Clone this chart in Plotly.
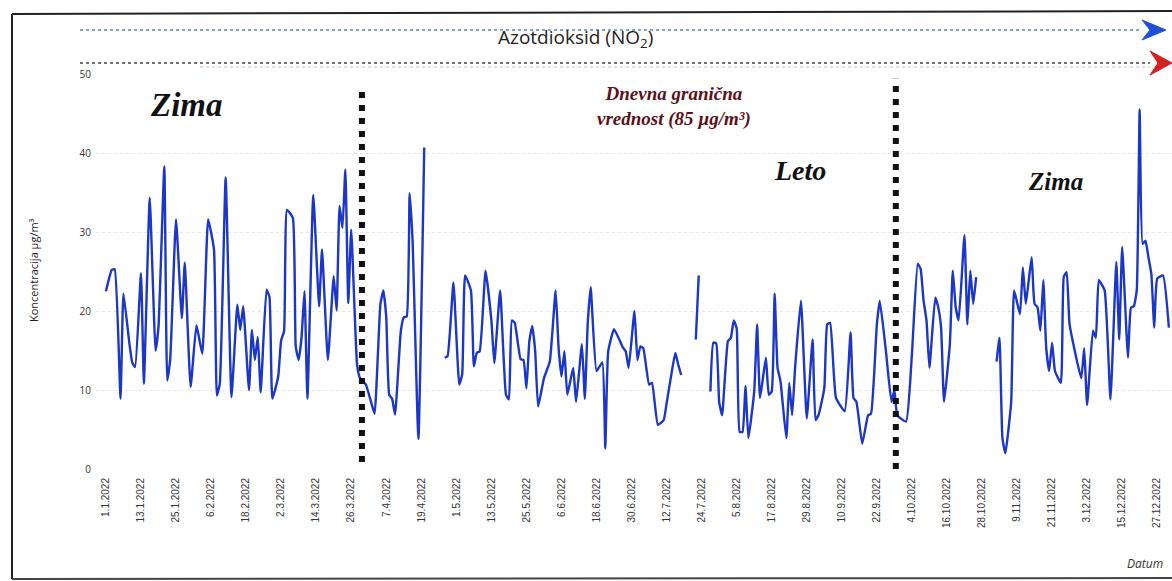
import plotly.graph_objects as go
import pandas as pd

# ---------------- data ----------------
day_of_year = [
    0, 2, 3, 5, 6, 8, 9, 10, 12, 13, 15, 17, 18, 20, 21, 22, 24, 26, 27, 29,
    31, 33, 35, 37, 38, 39, 41, 43, 45, 46, 47, 49, 50, 51, 52, 53, 55, 56, 57, 59,
    60, 61, 62, 64, 65, 66, 67, 68, 69, 71, 73, 74, 76, 78, 79, 80, 81, 82, 83, 84,
    86, 87, 89, 91, 92, 94, 95, 96, 97, 98, 99, 101, 102, 103, 104, 105, 107, 109,
    112,
    116, 117, 119, 121, 122, 123, 125, 126, 127, 128, 130, 132, 133, 135, 137, 138, 139, 140,
    142, 143, 144, 145, 146, 147, 148, 150, 152, 154, 155, 156, 157, 158, 160, 161, 163, 164,
    165, 166, 168, 170, 171, 172, 174, 177, 178, 179, 181, 182, 183, 184, 186, 187, 189, 191,
    192, 194, 195, 196, 197,
    199,
    202, 203,
    205,
    207, 208, 209, 210, 211, 213, 214, 215, 216, 217, 218, 219, 220, 222, 223, 224, 226, 227,
    228, 229, 230, 231, 233, 234, 235, 236, 238, 240, 242, 243, 244, 246, 247, 248, 250, 253,
    255, 256, 257, 259, 261, 262, 264, 265, 267, 269, 270, 271, 274, 276, 278, 279, 280, 281,
    282, 284, 285, 286, 287, 289, 290, 291, 292, 294, 295, 296, 297, 298,
    301,
    305, 306, 307, 308, 310, 311, 313, 314, 315, 317, 318, 319, 320, 321, 322, 323, 324, 325,
    327, 328, 329, 330, 334, 335, 336, 338, 339, 340, 342, 344, 346, 347, 348, 350, 351, 352,
    353, 354, 355, 356, 357, 358, 359, 360, 362, 364,
]
no2 = [
    22.5, 25.2, 25.3, 8.9, 22.2, 16.0, 13.5, 12.9, 24.8, 10.8, 34.3, 15.0, 18.0, 38.3, 11.2, 13.8, 31.6, 19.1, 26.1, 10.4,
    18.2, 14.6, 31.6, 27.8, 9.3, 10.8, 36.9, 9.1, 20.8, 17.6, 20.6, 10.0, 17.6, 13.8, 16.7, 9.7, 22.7, 21.8, 8.9, 11.7,
    16.3, 17.4, 32.8, 31.8, 15.5, 13.8, 16.7, 22.5, 8.9, 34.7, 20.6, 27.8, 13.8, 24.4, 20.1, 33.3, 30.5, 37.9, 21.0, 30.3,
    13.2, 11.5, 10.7, 8.2, 7.0, 20.9, 22.6, 19.2, 9.4, 8.9, 6.9, 17.5, 19.2, 19.3, 34.9, 29.0, 3.8, 40.7,
    None,
    14.1, 14.3, 23.6, 10.7, 12.0, 24.5, 22.6, 13.0, 14.7, 14.9, 25.1, 18.8, 13.4, 22.6, 9.4, 8.8, 18.8, 18.5,
    13.9, 13.8, 10.2, 16.2, 18.1, 14.9, 7.9, 11.5, 13.6, 22.6, 15.4, 11.7, 14.9, 9.4, 12.8, 8.5, 15.8, 8.9,
    18.5, 23.0, 12.4, 13.5, 2.6, 14.9, 17.7, 15.4, 14.9, 12.8, 20.0, 13.8, 15.5, 15.3, 10.7, 10.9, 5.6, 6.2,
    8.3, 12.8, 14.7, 13.2, 11.9,
    None,
    16.4, 24.5,
    None,
    9.8, 16.0, 15.9, 8.5, 6.8, 16.2, 16.6, 18.8, 17.8, 4.7, 4.7, 10.5, 3.9, 9.8, 18.3, 9.0, 14.1, 9.4,
    9.8, 22.2, 12.8, 11.1, 3.9, 10.9, 6.8, 12.8, 21.3, 6.4, 16.4, 6.2, 6.8, 10.2, 18.3, 18.5, 9.0, 7.3,
    17.3, 9.0, 8.5, 3.2, 6.8, 7.0, 18.3, 21.3, 15.3, 8.5, 10.0, 6.8, 6.0, 14.5, 26.0, 25.3, 21.3, 18.8,
    12.8, 21.7, 20.5, 17.9, 8.5, 15.8, 25.1, 20.5, 18.8, 29.6, 18.3, 25.1, 20.9, 24.3,
    None,
    13.6, 16.6, 3.9, 2.0, 8.5, 22.6, 19.6, 25.5, 20.9, 26.8, 20.9, 20.5, 17.5, 23.9, 15.3, 12.4, 16.0, 12.4,
    10.9, 24.3, 24.9, 18.3, 11.5, 15.3, 8.1, 17.5, 16.6, 23.9, 22.6, 8.8, 26.2, 16.4, 28.1, 14.1, 20.4, 20.6,
    22.6, 45.5, 28.5, 28.9, 26.8, 24.7, 17.9, 24.1, 24.5, 17.9,
]
tick_labels = [
    "1.1.2022", "13.1.2022", "25.1.2022", "6.2.2022", "18.2.2022", "2.3.2022", "14.3.2022",
    "26.3.2022", "7.4.2022", "19.4.2022", "1.5.2022", "13.5.2022", "25.5.2022", "6.6.2022",
    "18.6.2022", "30.6.2022", "12.7.2022", "24.7.2022", "5.8.2022", "17.8.2022", "29.8.2022",
    "10.9.2022", "22.9.2022", "4.10.2022", "16.10.2022", "28.10.2022", "9.11.2022",
    "21.11.2022", "3.12.2022", "15.12.2022", "27.12.2022",
]
season_boundaries = ["2022-03-29 16:00", "2022-09-28 12:00"]

# ---------------- figure ----------------
W, H = 1172, 581
L, R, T, B = 96, 0, 74, 112
start = pd.Timestamp("2022-01-01")
dates = start + pd.to_timedelta(day_of_year, unit="D")
tickvals = [pd.to_datetime(t, format="%d.%m.%Y") for t in tick_labels]


def px(xp):
    return (xp - L) / (W - L - R)


def py(yp):
    return (H - B - yp) / (H - B - T)


fig = go.Figure()
fig.add_trace(go.Scatter(
    x=dates, y=no2, mode="lines", connectgaps=False,
    line=dict(color="#1b36c9", width=2.4, shape="spline", smoothing=0.4),
    hoverinfo="x+y", showlegend=False,
))

shapes = []
# vertical season boundaries (thick square dots)
tops = [47.8, 49.4]
bots = [0.9, 0.0]
for d, t0, b0 in zip(season_boundaries, tops, bots):
    shapes.append(dict(type="line", xref="x", yref="y", x0=d, x1=d, y0=b0, y1=t0,
                       line=dict(color="#111111", width=6, dash="6px,7px")))
# top dotted lines with arrow heads
shapes.append(dict(type="line", xref="paper", yref="paper", x0=px(80), x1=px(1142),
                   y0=py(30), y1=py(30), line=dict(color="#5a86c4", width=1.5, dash="dot")))
shapes.append(dict(type="path", xref="paper", yref="paper",
                   path=f"M {px(1142)} {py(20)} L {px(1166)} {py(30)} L {px(1142)} {py(40)} L {px(1150)} {py(30)} Z",
                   fillcolor="#1f4fd6", line=dict(color="#1f4fd6", width=1)))
shapes.append(dict(type="line", xref="paper", yref="paper", x0=px(80), x1=px(1150),
                   y0=py(63), y1=py(63), line=dict(color="#444444", width=1.5, dash="dot")))
shapes.append(dict(type="line", xref="paper", yref="paper", x0=px(200), x1=px(1150),
                   y0=py(67), y1=py(67), line=dict(color="#e9b5b5", width=1, dash="dot")))
shapes.append(dict(type="path", xref="paper", yref="paper",
                   path=f"M {px(1150)} {py(51)} L {px(1172)} {py(63)} L {px(1150)} {py(75)} L {px(1158)} {py(63)} Z",
                   fillcolor="#d42020", line=dict(color="#d42020", width=1)))
# scanned page frame
shapes.append(dict(type="line", xref="paper", yref="paper", x0=px(12), x1=px(12),
                   y0=py(14), y1=py(579), line=dict(color="#222222", width=2)))
shapes.append(dict(type="line", xref="paper", yref="paper", x0=px(12), x1=px(1172),
                   y0=py(14), y1=py(11), line=dict(color="#222222", width=2)))
shapes.append(dict(type="line", xref="paper", yref="paper", x0=px(12), x1=px(1172),
                   y0=py(579), y1=py(578), line=dict(color="#444444", width=2)))

serif = "Liberation Serif, Times New Roman, serif"
annotations = [
    dict(text="Azotdioksid (NO<sub>2</sub>)", x=px(575), y=py(38),
         font=dict(family="Open Sans, sans-serif", size=19, color="#222222")),
    dict(text="<b><i>Zima</i></b>", x=px(186), y=py(105),
         font=dict(family=serif, size=33, color="#111111")),
    dict(text="<b><i>Dnevna granična<br>vrednost (85 µg/m³)</i></b>", x=px(674), y=py(106),
         font=dict(family=serif, size=19, color="#5c1018")),
    dict(text="<b><i>Leto</i></b>", x=px(800), y=py(170),
         font=dict(family=serif, size=28, color="#111111")),
    dict(text="<b><i>Zima</i></b>", x=px(1055), y=py(181),
         font=dict(family=serif, size=25, color="#111111")),
    dict(text="<i>Datum</i>", x=px(1145), y=py(563),
         font=dict(family="Open Sans, sans-serif", size=12, color="#333333")),
    dict(text="Koncentracija µg/m³", x=px(33), y=py(270), textangle=-90,
         font=dict(family="Open Sans, sans-serif", size=11, color="#222222")),
]
for a in annotations:
    a.update(xref="paper", yref="paper", showarrow=False, xanchor="center", yanchor="middle")

fig.update_layout(
    width=W, height=H,
    margin=dict(l=L, r=R, t=T, b=B, pad=0),
    paper_bgcolor="white", plot_bgcolor="white",
    shapes=shapes, annotations=annotations,
    xaxis=dict(
        range=[start - pd.Timedelta(days=3.4), start + pd.Timedelta(days=365.07)],
        tickvals=tickvals, ticktext=tick_labels, tickangle=-90,
        tickfont=dict(family="Liberation Sans Narrow, Arial Narrow, sans-serif", size=10, color="#333333"),
        showgrid=False, zeroline=False, showline=False, ticks="outside", ticklen=4,
        tickcolor="rgba(0,0,0,0)",
    ),
    yaxis=dict(
        range=[0, 50], tickvals=[0, 10, 20, 30, 40, 50],
        tickfont=dict(family="Open Sans, sans-serif", size=10, color="#333333"),
        showgrid=True, gridcolor="#e6e6e6", griddash="dot", gridwidth=1,
        zeroline=False, showline=False, ticks="", ticklabelstandoff=4,
    ),
)

fig.write_html(
    "out.html",
    config={"displayModeBar": False},
    post_script="document.body.style.margin='0';document.body.style.overflow='hidden';",
)
